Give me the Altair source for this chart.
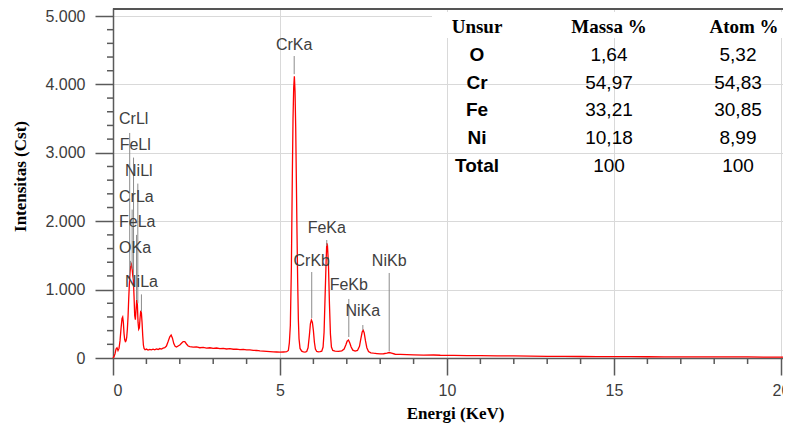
import altair as alt
import pandas as pd

# ---------------- spectrum ----------------
energy = [0.00, 0.03, 0.06, 0.09, 0.12, 0.15, 0.18, 0.21, 0.24, 0.27, 0.29, 0.31, 0.33, 0.35,
          0.37, 0.39, 0.41, 0.43, 0.45, 0.47, 0.49, 0.51, 0.53, 0.55, 0.57, 0.59, 0.61, 0.63,
          0.65, 0.67, 0.69, 0.71, 0.73, 0.75, 0.77, 0.79, 0.81, 0.83, 0.85, 0.87, 0.89, 0.91,
          0.93, 0.96, 1.00, 1.05, 1.10, 1.15, 1.20, 1.25, 1.30, 1.35, 1.40, 1.45, 1.50, 1.55,
          1.60, 1.65, 1.70, 1.74, 1.78, 1.82, 1.86, 1.90, 1.95, 2.00, 2.05, 2.10, 2.15, 2.20,
          2.25, 2.30, 2.40, 2.50, 2.60, 2.70, 2.80, 2.90, 3.00, 3.10, 3.20, 3.30, 3.40, 3.50,
          3.60, 3.70, 3.80, 3.90, 4.00, 4.10, 4.20, 4.30, 4.40, 4.50, 4.60, 4.70, 4.80, 4.90,
          5.00, 5.10, 5.20, 5.25, 5.28, 5.31, 5.34, 5.37, 5.39, 5.41, 5.43, 5.45, 5.47, 5.49,
          5.51, 5.53, 5.55, 5.57, 5.60, 5.65, 5.70, 5.75, 5.80, 5.84, 5.88, 5.91, 5.94, 5.97,
          6.00, 6.03, 6.06, 6.10, 6.15, 6.20, 6.25, 6.29, 6.32, 6.35, 6.38, 6.40, 6.42, 6.45,
          6.48, 6.51, 6.54, 6.58, 6.65, 6.75, 6.85, 6.92, 6.97, 7.01, 7.05, 7.09, 7.13, 7.18,
          7.25, 7.32, 7.38, 7.42, 7.46, 7.49, 7.52, 7.56, 7.60, 7.65, 7.72, 7.80, 7.90, 8.00,
          8.10, 8.20, 8.27, 8.34, 8.45, 8.60, 8.80, 9.00, 9.30, 9.60, 9.80, 10.2, 10.6, 11.0,
          11.5, 12.0, 12.5, 13.0, 13.5, 14.0, 14.5, 15.0, 15.5, 16.0, 16.5, 17.0, 17.5, 18.0,
          18.5, 19.0, 19.5, 20.06]
counts = [0, 20, 60, 130, 150, 110, 140, 250, 430, 580, 600, 520, 360, 270,
          240, 250, 300, 420, 600, 860, 1080, 1250, 1340, 1370, 1320, 1210, 1140, 900,
          620, 560, 700, 850, 780, 520, 420, 440, 580, 690, 660, 520, 330, 190,
          140, 120, 130, 115, 125, 118, 128, 120, 132, 125, 138, 130, 145, 150,
          175, 240, 310, 335, 290, 210, 170, 160, 175, 190, 215, 240, 238, 205,
          175, 165, 158, 162, 150, 155, 145, 150, 140, 146, 138, 142, 132, 136,
          128, 130, 122, 125, 118, 120, 112, 110, 104, 100, 97, 94, 90, 88,
          85, 88, 92, 110, 220, 480, 1300, 2700, 3500, 3950, 4120, 3900, 3380, 2600,
          1800, 1100, 560, 280, 140, 100, 90, 85, 95, 150, 330, 500, 555, 520,
          400, 230, 130, 95, 90, 92, 100, 160, 380, 900, 1400, 1680, 1650, 1380,
          800, 350, 160, 110, 100, 98, 105, 130, 190, 245, 262, 220, 160, 115,
          100, 110, 170, 280, 380, 405, 370, 250, 150, 95, 75, 70, 65, 60,
          62, 72, 80, 70, 55, 52, 48, 46, 42, 44, 40, 38, 36, 34,
          32, 30, 27, 25, 24, 22, 21, 20, 19, 18, 17, 17, 16, 16,
          15, 15, 14, 14]

# ---------------- peak labels ----------------
peak_names = ["CrLl", "FeLl", "NiLl", "CrLa", "FeLa", "OKa", "NiLa",
              "CrKa", "CrKb", "FeKa", "FeKb", "NiKa", "NiKb"]
peak_line_e = [0.50, 0.615, 0.743, 0.573, 0.705, 0.525, 0.851,
               5.425, 5.95, 6.40, 7.06, 7.48, 8.27]
peak_text_e = [0.18, 0.20, 0.36, 0.18, 0.18, 0.18, 0.36,
               5.425, 5.95, 6.40, 7.06, 7.48, 8.27]
peak_text_y = [3494, 3114, 2734, 2354, 1988, 1608, 1111,
               4576, 1418, 1900, 1067, 687, 1418]
peak_line_top = [3290, 2930, 2550, 2170, 1800, 1420, 930,
                 4415, 1257, 1725, 863, 482, 1243]
peak_line_bottom = [1200, 1150, 800, 1300, 850, 1350, 680,
                    4150, 585, 1637, 307, 410, 100]
peak_side = ["left"] * 7 + ["center"] * 6

# ---------------- axes ----------------
y_major = [0, 1000, 2000, 3000, 4000, 5000]
y_minor = [v for v in range(200, 5000, 200) if v % 1000]
x_major = [0, 5, 10, 15, 20]
x_minor = [v for v in range(1, 20) if v % 5]

# ---------------- table ----------------
headers = ["Unsur", "Massa %", "Atom %"]
elements = ["O", "Cr", "Fe", "Ni", "Total"]
massa = [1.64, 54.97, 33.21, 10.18, 100]
atom = [5.32, 54.83, 30.85, 8.99, 100]


def fmt(v):
    return str(v) if float(v).is_integer() else f"{v:.2f}".replace(".", ",")


W, H = 670, 350
X_DOMAIN = [0, 20.06]
Y_DOMAIN = [0, 5117]
xs = alt.Scale(domain=X_DOMAIN, nice=False, zero=False)
ys = alt.Scale(domain=Y_DOMAIN, nice=False, zero=False)

AX = "#5a5a5a"
x_axis = alt.Axis(values=x_major, tickSize=17, tickWidth=1.5, tickColor=AX,
                  domainColor=AX, domainWidth=1.5, labelFont="Liberation Sans",
                  labelFontSize=16, labelColor="#3c3c3c", labelPadding=7,
                  grid=True, gridColor="#d9d9d9", gridWidth=1,
                  title="Energi (KeV)", titleFont="Liberation Serif",
                  titleFontSize=17, titleFontWeight="bold", titleColor="black",
                  titleX=342, titleY=55, titleBaseline="middle", titleAlign="center")
y_axis = alt.Axis(values=y_major, tickSize=18, tickWidth=1.5, tickColor=AX,
                  domainColor=AX, domainWidth=1.5, labelFont="Liberation Sans",
                  labelFontSize=16, labelColor="#3c3c3c", labelPadding=10,
                  labelExpr="replace(format(datum.value, ','), ',', '.')",
                  grid=True, gridColor="#d9d9d9", gridWidth=1,
                  title="Intensitas (Cst)", titleFont="Liberation Serif",
                  titleFontSize=17, titleFontWeight="bold", titleColor="black",
                  titleX=-93, titleY=168, titleBaseline="middle", titleAlign="center")

spec_df = pd.DataFrame({"energy": energy, "counts": counts})
peaks_df = pd.DataFrame({"name": peak_names, "le": peak_line_e, "te": peak_text_e,
                         "ty": peak_text_y, "top": peak_line_top,
                         "bottom": peak_line_bottom, "side": peak_side})

layers = []

# white patch behind the table header
layers.append(
    alt.Chart(pd.DataFrame({"a": [0]})).mark_rect(color="white").encode(
        x=alt.value(319), x2=alt.value(W), y=alt.value(4), y2=alt.value(30))
)

spectrum = alt.Chart(spec_df).mark_line(color="#ff0000", strokeWidth=1.3).encode(
    x=alt.X("energy:Q", scale=xs, axis=x_axis),
    y=alt.Y("counts:Q", scale=ys, axis=y_axis),
)
layers.append(spectrum)

peak_rules = alt.Chart(peaks_df).mark_rule(color="#8c8c8c", strokeWidth=1).encode(
    x=alt.X("le:Q", scale=xs, axis=x_axis),
    y=alt.Y("top:Q", scale=ys, axis=y_axis),
    y2="bottom:Q",
)
layers.append(peak_rules)

for side in ["left", "center"]:
    layers.append(
        alt.Chart(peaks_df).transform_filter(alt.datum.side == side).mark_text(
            align=side, baseline="middle", font="Liberation Sans", fontSize=16,
            color="#404040").encode(
            x=alt.X("te:Q", scale=xs, axis=x_axis),
            y=alt.Y("ty:Q", scale=ys, axis=y_axis),
            text="name:N")
    )

# minor ticks
layers.append(
    alt.Chart(pd.DataFrame({"v": y_minor})).mark_rule(color=AX, strokeWidth=1.5).encode(
        y=alt.Y("v:Q", scale=ys, axis=y_axis), x=alt.value(-6), x2=alt.value(0))
)
layers.append(
    alt.Chart(pd.DataFrame({"v": x_minor})).mark_rule(color=AX, strokeWidth=1.5).encode(
        x=alt.X("v:Q", scale=xs, axis=x_axis), y=alt.value(H), y2=alt.value(H + 6))
)

# top frame line
layers.append(
    alt.Chart(pd.DataFrame({"a": [0]})).mark_rule(color="#555555", strokeWidth=2).encode(
        x=alt.value(0), x2=alt.value(W), y=alt.value(1))
)

# table
col_x = [364, 496, 631]
val_x = [364, 496, 625]
row_y = [47, 75, 102, 130, 158]


def cell(text, px, py, font, weight, size=19):
    return alt.Chart(pd.DataFrame({"t": [text]})).mark_text(
        font=font, fontWeight=weight, fontSize=size, color="black",
        align="center", baseline="middle").encode(
        x=alt.value(px), y=alt.value(py), text="t:N")


for h, cx in zip(headers, col_x):
    layers.append(cell(h, cx, 19, "Liberation Serif", "bold"))
for i, el in enumerate(elements):
    layers.append(cell(el, val_x[0], row_y[i], "Liberation Sans", "bold"))
    layers.append(cell(fmt(massa[i]), val_x[1], row_y[i], "Liberation Sans", "normal"))
    layers.append(cell(fmt(atom[i]), val_x[2], row_y[i], "Liberation Sans", "normal"))

chart = alt.layer(*layers).properties(
    width=W, height=H,
    autosize=alt.AutoSizeParams(type="none"),
    padding={"left": 105, "top": 0, "right": 0, "bottom": 66},
).configure_view(stroke=None)

chart.save("out.html", embed_options={"renderer": "svg", "actions": False})
